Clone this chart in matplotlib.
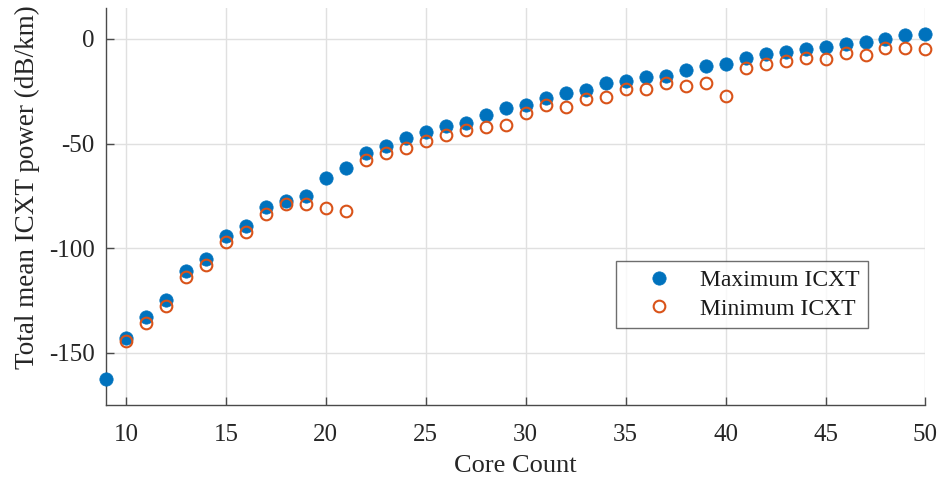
import matplotlib
matplotlib.use("Agg")
import matplotlib.pyplot as plt
import numpy as np

# Core counts
cores_max = list(range(9, 51))
cores_min = list(range(10, 51))

# Total mean ICXT power (dB/km)
icxt_max = [-162.4, -143.0, -132.7, -124.7, -110.7, -105.1, -94.0, -89.2, -80.1, -77.4,
            -75.3, -66.6, -61.5, -54.6, -51.0, -47.5, -44.3, -41.4, -40.0, -36.3,
            -32.8, -31.5, -28.3, -25.9, -24.4, -20.9, -19.9, -18.3, -17.7, -14.8,
            -12.7, -11.9, -9.2, -7.2, -6.0, -4.8, -3.8, -2.5, -1.3, -0.2,
            1.9, 2.2]
icxt_min = [-144.6, -135.9, -127.9, -113.9, -108.3, -97.3, -92.3, -83.8, -78.8,
            -78.8, -80.6, -82.2, -58.0, -54.6, -51.9, -48.7, -45.9, -43.5, -41.9,
            -41.1, -35.5, -31.5, -32.6, -28.7, -27.6, -24.0, -24.0, -20.9, -22.5,
            -21.2, -27.2, -14.0, -11.9, -10.4, -9.2, -9.6, -6.8, -7.6, -4.5,
            -4.1, -4.9]

xticks = [10, 15, 20, 25, 30, 35, 40, 45, 50]
yticks = [-150, -100, -50, 0]

blue = "#0072BD"
orange = "#D95319"
axis_col = "#4a4a4a"

plt.rcParams["font.family"] = ["Liberation Serif", "DejaVu Serif"]

fig = plt.figure(figsize=(9.41, 4.82), dpi=100)
ax = fig.add_axes([0.1126, 0.1598, 0.8709, 0.8244])

ax.plot(cores_max, icxt_max, linestyle="none", marker="o", markersize=9.6,
        markerfacecolor=blue, markeredgecolor=blue, markeredgewidth=0.5,
        label="Maximum ICXT", zorder=3, clip_on=False)
ax.plot(cores_min, icxt_min, linestyle="none", marker="o", markersize=8.4,
        markerfacecolor="none", markeredgecolor=orange, markeredgewidth=1.5,
        label="Minimum ICXT", zorder=4, clip_on=False)

ax.set_xlim(9, 50)
ax.set_ylim(-175, 15)
ax.set_xticks(xticks)
ax.set_yticks(yticks)
ax.set_xticklabels([str(v) for v in xticks])
ax.set_yticklabels([str(v) for v in yticks])

ax.grid(True, color="#e0e0e0", linewidth=1.0)
ax.set_axisbelow(True)

for side in ("top", "right"):
    ax.spines[side].set_visible(False)
for side in ("left", "bottom"):
    ax.spines[side].set_color(axis_col)
    ax.spines[side].set_linewidth(1.0)

ax.tick_params(axis="both", direction="in", length=6, width=1.0,
               color=axis_col, labelsize=18, labelcolor="#262626")
ax.tick_params(axis="x", pad=13.5)
ax.tick_params(axis="y", pad=8)

ax.set_xlabel("Core Count", fontsize=19, color="#262626", labelpad=7)
ax.set_ylabel("Total mean ICXT power (dB/km)", fontsize=19.5, color="#262626")
ax.yaxis.set_label_coords(-0.081, 0.549)

leg = ax.legend(loc="upper left", bbox_to_anchor=(0.622, 0.362), fontsize=17,
                frameon=True, fancybox=False, edgecolor="#4a4a4a",
                borderpad=0.35, handletextpad=0.27, labelspacing=0.3,
                handlelength=2.94, borderaxespad=0)
leg.get_frame().set_linewidth(1.0)
for t in leg.get_texts():
    t.set_color("#1a1a1a")

fig.savefig("out.png", dpi=100)
